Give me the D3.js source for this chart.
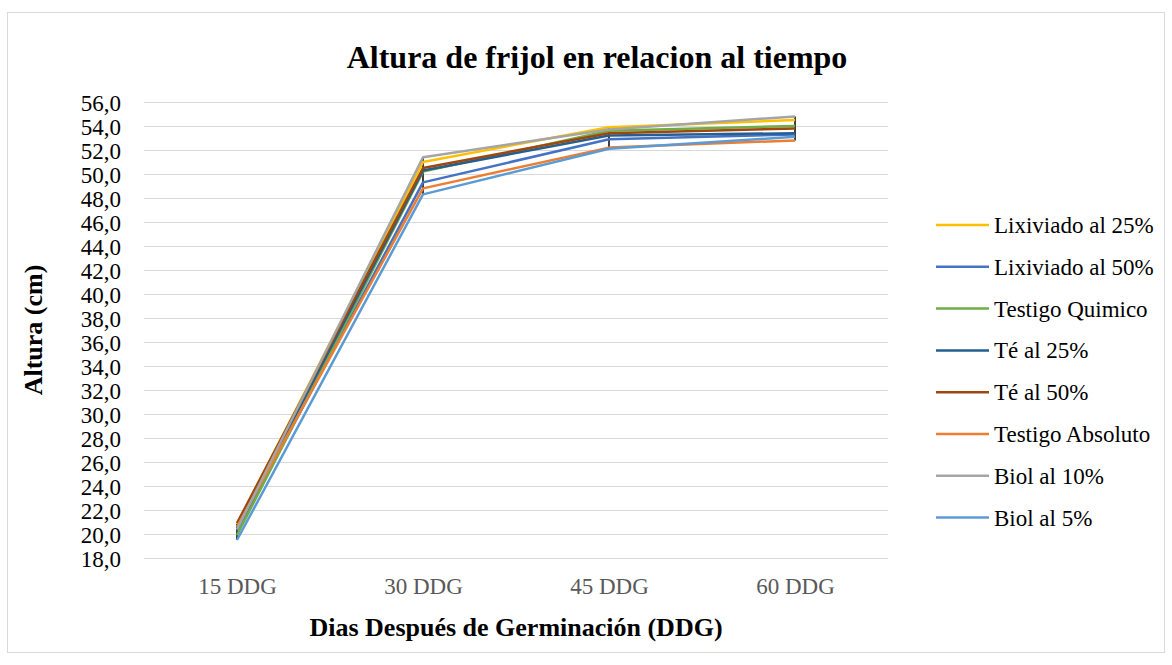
<!DOCTYPE html>
<html>
<head>
<meta charset="utf-8">
<script src="https://cdn.jsdelivr.net/npm/d3@7"></script>
<style>
  body { margin: 0; background: #fff; }
  text { font-family: "Liberation Serif", "Times New Roman", serif; }
</style>
</head>
<body>
<svg id="chart"></svg>
<script>
// categories on the x axis
const categories = ['15 DDG', '30 DDG', '45 DDG', '60 DDG']
// y tick values
const yTicks = d3.range(18, 57, 2)
// series names
const seriesNames = ['Lixiviado al 25%', 'Lixiviado al 50%', 'Testigo Quimico', 'Té al 25%',
  'Té al 50%', 'Testigo Absoluto', 'Biol al 10%', 'Biol al 5%']
// values per series
const lix25 = [20.8, 51.0, 53.9, 54.5]
const lix50 = [20.3, 49.3, 52.9, 53.3]
const testQuim = [19.9, 50.2, 53.6, 54.0]
const te25 = [20.5, 50.3, 53.2, 53.4]
const te50 = [20.9, 50.5, 53.4, 53.8]
const testAbs = [20.6, 48.8, 52.2, 52.8]
const biol10 = [20.4, 51.4, 53.7, 54.8]
const biol5 = [19.5, 48.3, 52.1, 53.1]

const seriesValues = [lix25, lix50, testQuim, te25, te50, testAbs, biol10, biol5]
const colors = ['#FFC000', '#4472C4', '#70AD47', '#255E91', '#9E480E', '#ED7D31', '#A5A5A5', '#5B9BD5']

const w = 1172
const h = 665
const svg = d3.select('#chart')
  .attr('width', w)
  .attr('height', h)

// chart frame
svg.append('rect')
  .attr('x', 7.5).attr('y', 12.5)
  .attr('width', 1157).attr('height', 640)
  .attr('fill', '#fff')
  .attr('stroke', '#d9d9d9')

const plotLeft = 144, plotRight = 888, plotTop = 102, plotBottom = 558

const xScale = d3.scalePoint()
  .domain(categories)
  .range([plotLeft, plotRight])
  .padding(0.5)
const yScale = d3.scaleLinear()
  .domain([18, 56])
  .range([plotBottom, plotTop])

// gridlines + y labels
const yAxis = d3.axisLeft(yScale)
  .tickValues(yTicks)
  .tickSize(-(plotRight - plotLeft))
  .tickPadding(23)
  .tickFormat(d => d3.format('.1f')(d).replace('.', ','))
svg.append('g')
  .attr('transform', `translate(${plotLeft}, 0)`)
  .call(yAxis)
  .call(g => g.select('.domain').remove())
  .call(g => g.selectAll('line').attr('stroke', '#d9d9d9').attr('stroke-width', 1))
  .call(g => g.selectAll('text').attr('font-size', 23).attr('fill', '#000')
    .attr('font-family', '"Liberation Serif", serif').attr('dy', '0.35em'))

// x labels
const xAxis = d3.axisBottom(xScale).tickSize(0).tickPadding(20)
svg.append('g')
  .attr('transform', `translate(0, ${plotBottom})`)
  .call(xAxis)
  .call(g => g.select('.domain').remove())
  .call(g => g.selectAll('text').attr('font-size', 23).attr('fill', '#595959')
    .attr('font-family', '"Liberation Serif", serif'))

// high-low lines
svg.append('g')
  .selectAll('line')
  .data(categories)
  .enter()
  .append('line')
  .attr('x1', d => xScale(d))
  .attr('x2', d => xScale(d))
  .attr('y1', (d, i) => yScale(d3.max(seriesValues, s => s[i])))
  .attr('y2', (d, i) => yScale(d3.min(seriesValues, s => s[i])))
  .attr('stroke', '#404040')
  .attr('stroke-width', 2)

// series lines
const line = d3.line()
  .x((d, i) => xScale(categories[i]))
  .y(d => yScale(d))
svg.append('g')
  .selectAll('path')
  .data(seriesValues)
  .enter()
  .append('path')
  .attr('d', d => line(d))
  .attr('fill', 'none')
  .attr('stroke', (d, i) => colors[i])
  .attr('stroke-width', 2.5)
  .attr('stroke-linejoin', 'round')

// title
svg.append('text')
  .attr('x', 597).attr('y', 68)
  .attr('text-anchor', 'middle')
  .attr('font-size', 32).attr('font-weight', 'bold')
  .text('Altura de frijol en relacion al tiempo')

// axis titles
svg.append('text')
  .attr('transform', `translate(42, 330) rotate(-90)`)
  .attr('text-anchor', 'middle')
  .attr('font-size', 26).attr('font-weight', 'bold')
  .text('Altura (cm)')
svg.append('text')
  .attr('x', 516).attr('y', 636)
  .attr('text-anchor', 'middle')
  .attr('font-size', 26).attr('font-weight', 'bold')
  .text('Dias Después de Germinación (DDG)')

// legend
const legend = svg.append('g')
  .selectAll('g')
  .data(seriesNames)
  .enter()
  .append('g')
  .attr('transform', (d, i) => `translate(936, ${225 + i * 41.8})`)
legend.append('line')
  .attr('x1', 0).attr('x2', 53)
  .attr('stroke', (d, i) => colors[i])
  .attr('stroke-width', 2.5)
legend.append('text')
  .attr('x', 58).attr('dy', '0.35em')
  .attr('font-size', 23)
  .text(d => d)
</script>
</body>
</html>
